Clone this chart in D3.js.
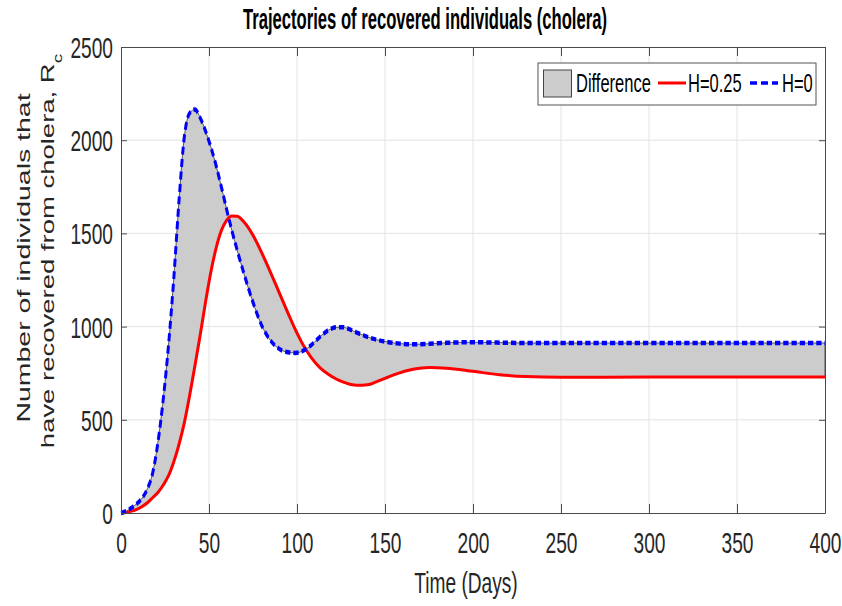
<!DOCTYPE html>
<html>
<head>
<meta charset="utf-8">
<script src="https://cdn.jsdelivr.net/npm/d3@7"></script>
<style>
  body { margin: 0; background: #fff; }
</style>
</head>
<body>
<div id="chart"></div>
<script>
// time samples (days) shared by both trajectories
const days = [0, 3, 6, 9, 12, 15, 18, 21, 24, 27, 30, 33, 36, 39, 42, 45, 48, 51, 54, 57,
  60, 63, 66, 70, 75, 80, 85, 90, 95, 99, 103, 108, 113, 118, 122, 126, 130, 134, 140, 145,
  150, 157, 166, 175, 185, 200, 215, 230, 250, 300, 350, 400];

// recovered individuals, no intervention (H=0)
const recoveredH0 = [0, 10, 28, 50, 80, 130, 215, 380, 610, 900, 1260, 1680, 2020, 2145, 2165, 2120, 2050, 1965, 1865, 1750,
  1630, 1515, 1410, 1280, 1130, 1005, 925, 880, 862, 859, 868, 900, 945, 982, 996, 997, 985, 968, 945, 930,
  920, 910, 905, 908, 913, 916, 914, 912, 912, 912, 912, 912];

// recovered individuals with H=0.25
const recoveredH025 = [0, 3, 10, 20, 35, 55, 82, 110, 150, 200, 275, 370, 485, 630, 790, 955, 1130, 1290, 1420, 1515,
  1570, 1594, 1592, 1560, 1490, 1395, 1290, 1180, 1070, 985, 910, 835, 780, 743, 720, 703, 691, 685, 688, 703,
  722, 748, 771, 781, 777, 760, 742, 732, 728, 729, 729, 729];

const xTicks = [0, 50, 100, 150, 200, 250, 300, 350, 400];
const yTicks = [0, 500, 1000, 1500, 2000, 2500];

const legendLabels = ["Difference", "H=0.25", "H=0"];

const W = 842, H = 606;
const box = {l: 121, r: 825, t: 47, b: 513};
const sq = 0.66;   // horizontal squeeze of text and dashed line
const font = "'Liberation Sans', Arial, Helvetica, sans-serif";
const axisColor = "#4a4a4a";
const textColor = "#262626";

const svg = d3.select("#chart").append("svg")
    .attr("width", W)
    .attr("height", H)
    .style("font-family", font);

svg.append("rect").attr("width", W).attr("height", H).attr("fill", "#fff");

const x = d3.scaleLinear().domain([0, 400]).range([box.l, box.r]);
const y = d3.scaleLinear().domain([0, 2500]).range([box.b, box.t]);
// wide x scale used inside the squeezed group
const xWide = d3.scaleLinear().domain([0, 400]).range([0, (box.r - box.l) / sq]);

const rows = days.map((t, i) => ({t: t, h0: recoveredH0[i], h25: recoveredH025[i]}));

// grid
const grid = svg.append("g").attr("stroke", "#e3e3e3").attr("stroke-width", 1);
grid.selectAll("line.vx").data(xTicks.slice(1, -1)).enter().append("line")
    .attr("x1", d => x(d)).attr("x2", d => x(d))
    .attr("y1", box.t).attr("y2", box.b);
grid.selectAll("line.hy").data(yTicks.slice(1, -1)).enter().append("line")
    .attr("x1", box.l).attr("x2", box.r)
    .attr("y1", d => y(d)).attr("y2", d => y(d));

// shaded difference between the two runs
const area = d3.area()
    .x(d => x(d.t))
    .y0(d => y(d.h25))
    .y1(d => y(d.h0))
    .curve(d3.curveMonotoneX);

svg.append("path")
    .datum(rows)
    .attr("d", area)
    .attr("fill", "#cccccc")
    .attr("stroke", "#333")
    .attr("stroke-width", 0.8);

svg.append("path")
    .datum(rows)
    .attr("d", d3.line().x(d => x(d.t)).y(d => y(d.h25)).curve(d3.curveMonotoneX))
    .attr("fill", "none")
    .attr("stroke", "#ff0000")
    .attr("stroke-width", 3);

// dashed H=0 line drawn wide then squeezed, so dashes shorten on flat stretches
svg.append("g")
    .attr("transform", `translate(${box.l},0) scale(${sq},1)`)
    .append("path")
    .datum(rows)
    .attr("d", d3.line().x(d => xWide(d.t)).y(d => y(d.h0)).curve(d3.curveMonotoneX))
    .attr("fill", "none")
    .attr("stroke", "#0000ff")
    .attr("stroke-width", 4.5)
    .attr("stroke-dasharray", "8,4.5");

// axes (ticks pointing inward, box on all four sides)
function styleAxis(g) {
    g.select(".domain").attr("stroke", axisColor);
    g.selectAll(".tick line").attr("stroke", axisColor);
}

const xAxis = svg.append("g")
    .attr("transform", `translate(0,${box.b})`)
    .call(d3.axisBottom(x).tickValues(xTicks).tickSizeInner(-9).tickSizeOuter(0))
    .call(styleAxis);
xAxis.selectAll(".tick text")
    .attr("y", 0).attr("dy", 0)
    .attr("transform", `translate(0,40) scale(${sq},1)`)
    .attr("font-size", 29)
    .attr("fill", textColor);

const yAxis = svg.append("g")
    .attr("transform", `translate(${box.l},0)`)
    .call(d3.axisLeft(y).tickValues(yTicks).tickSizeInner(-6).tickSizeOuter(0).tickFormat(d3.format("d")))
    .call(styleAxis);
yAxis.selectAll(".tick text")
    .attr("x", 0).attr("dy", 0)
    .attr("transform", `translate(-8,10.5) scale(${sq},1)`)
    .attr("font-size", 29)
    .attr("fill", textColor);

svg.append("g")
    .attr("transform", `translate(0,${box.t})`)
    .call(d3.axisTop(x).tickValues(xTicks).tickSizeInner(-9).tickSizeOuter(0).tickFormat(""))
    .call(styleAxis);
svg.append("g")
    .attr("transform", `translate(${box.r},0)`)
    .call(d3.axisRight(y).tickValues(yTicks).tickSizeInner(-6).tickSizeOuter(0).tickFormat(""))
    .call(styleAxis);

// title, fitted to its width
const title = svg.append("text")
    .attr("font-size", 30)
    .attr("font-weight", "bold")
    .attr("fill", "#000")
    .attr("text-anchor", "middle")
    .text("Trajectories of recovered individuals (cholera)");
const titleW = title.node().getComputedTextLength();
title.attr("transform", `translate(425,29) scale(${364 / titleW},1)`);

svg.append("text")
    .attr("font-size", 29)
    .attr("fill", textColor)
    .attr("text-anchor", "middle")
    .attr("transform", `translate(466,593) scale(${sq},1)`)
    .text("Time (Days)");

// y label, two lines
svg.append("text")
    .attr("font-size", 28.5)
    .attr("fill", textColor)
    .attr("text-anchor", "middle")
    .attr("transform", `translate(29.5,258) rotate(-90) scale(1,${sq})`)
    .text("Number of individuals that");

const yl2 = svg.append("text")
    .attr("font-size", 27.5)
    .attr("fill", textColor)
    .attr("text-anchor", "middle")
    .attr("transform", `translate(54,251) rotate(-90) scale(1,${sq})`);
yl2.append("tspan").text("have recovered from cholera, R");
yl2.append("tspan").attr("font-size", 19).attr("dy", 12).text("c");

// legend
const lg = svg.append("g");
lg.append("rect")
    .attr("x", 538).attr("y", 63).attr("width", 278).attr("height", 42)
    .attr("fill", "#fff").attr("stroke", "#555").attr("stroke-width", 1);
lg.append("rect")
    .attr("x", 543.5).attr("y", 70).attr("width", 28).attr("height", 27)
    .attr("fill", "#cccccc").attr("stroke", "#444").attr("stroke-width", 1);
lg.append("line")
    .attr("x1", 658).attr("x2", 686).attr("y1", 83).attr("y2", 83)
    .attr("stroke", "#ff0000").attr("stroke-width", 3);
lg.append("line")
    .attr("x1", 750).attr("x2", 778).attr("y1", 83).attr("y2", 83)
    .attr("stroke", "#0000ff").attr("stroke-width", 3.5)
    .attr("stroke-dasharray", "7,4");
const legendX = [576, 688, 782];
lg.selectAll("text.lab").data(legendLabels).enter().append("text")
    .attr("font-size", 25)
    .attr("fill", "#000")
    .attr("transform", (d, i) => `translate(${legendX[i]},92) scale(${sq},1)`)
    .text(d => d);
</script>
</body>
</html>
